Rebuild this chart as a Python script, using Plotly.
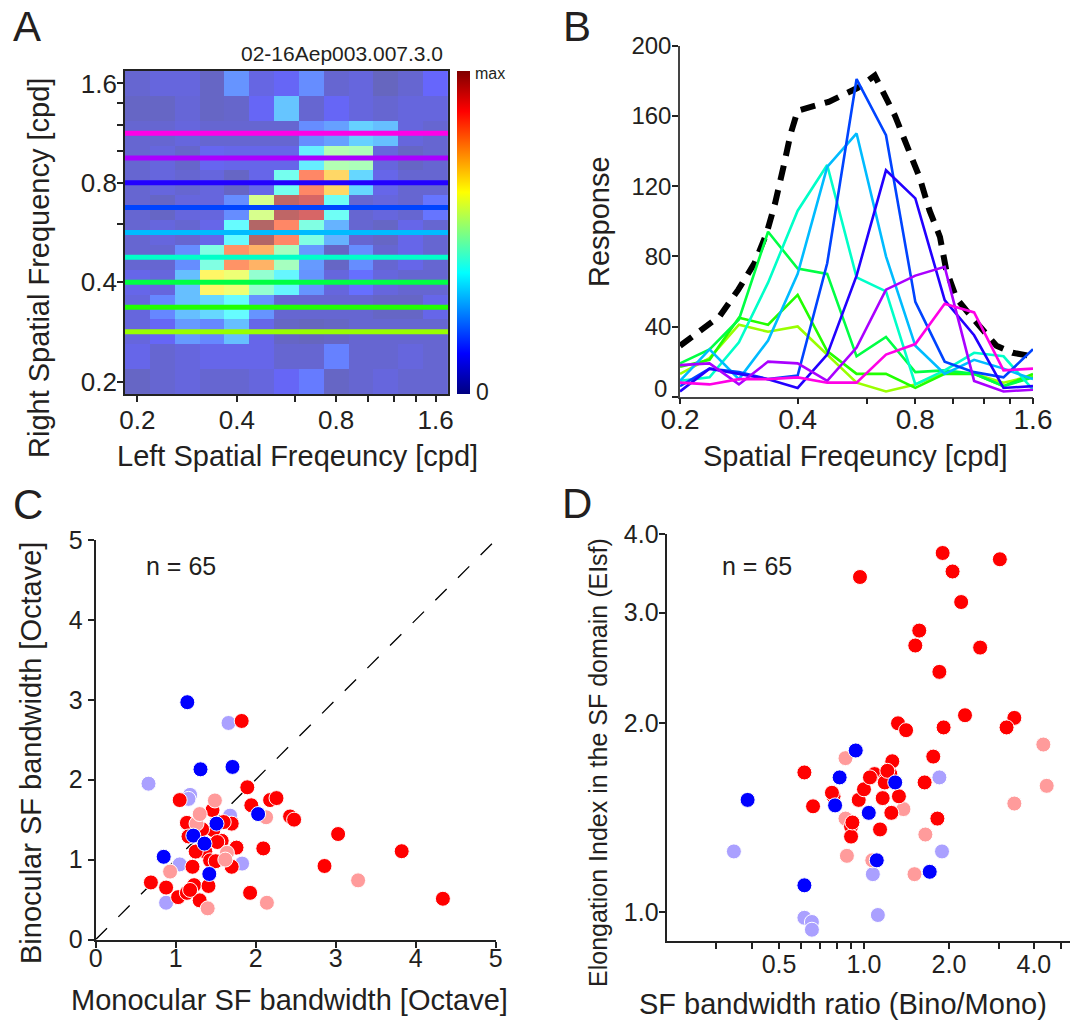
import numpy as np
import plotly.graph_objects as go

W, H = 1071, 1021
FONT = "Liberation Sans, Arial, sans-serif"
TXT = "#231f20"

# ---------------- data ----------------
sf = [0.2, 0.238, 0.283, 0.336, 0.4, 0.476, 0.566, 0.673, 0.8, 0.951, 1.131, 1.345, 1.6]
right_sf_desc = [1.6, 1.345, 1.131, 0.951, 0.8, 0.673, 0.566, 0.476, 0.4, 0.336, 0.283, 0.238, 0.2]
heat_rows = [
    [0.05, 0.07, 0.07, 0.03, 0.20, 0.08, 0.11, 0.19, 0.05, 0.07, 0.02, 0.05, 0.12],
    [0.03, 0.03, 0.06, 0.03, 0.04, 0.11, 0.28, 0.05, 0.11, 0.07, 0.05, 0.07, 0.07],
    [0.05, 0.05, 0.07, 0.05, 0.05, 0.05, 0.05, 0.19, 0.22, 0.30, 0.27, 0.07, 0.05],
    [0.05, 0.07, 0.04, 0.10, 0.09, 0.09, 0.09, 0.35, 0.50, 0.49, 0.07, 0.03, 0.05],
    [0.05, 0.07, 0.05, 0.07, 0.03, 0.09, 0.40, 0.82, 0.69, 0.31, 0.09, 0.05, 0.05],
    [0.05, 0.03, 0.07, 0.07, 0.19, 0.56, 0.98, 0.94, 0.39, 0.05, 0.07, 0.05, 0.15],
    [0.05, 0.07, 0.05, 0.09, 0.37, 1.00, 0.82, 0.42, 0.25, 0.05, 0.03, 0.09, 0.05],
    [0.05, 0.05, 0.19, 0.42, 0.80, 0.75, 0.48, 0.21, 0.03, 0.19, 0.05, 0.09, 0.05],
    [0.09, 0.07, 0.27, 0.64, 0.60, 0.45, 0.36, 0.20, 0.07, 0.14, 0.07, 0.05, 0.05],
    [0.07, 0.18, 0.27, 0.31, 0.37, 0.20, 0.05, 0.05, 0.05, 0.05, 0.03, 0.03, 0.09],
    [0.07, 0.11, 0.21, 0.18, 0.27, 0.09, 0.03, 0.02, 0.03, 0.05, 0.05, 0.05, 0.05],
    [0.09, 0.05, 0.07, 0.09, 0.09, 0.09, 0.05, 0.05, 0.17, 0.05, 0.05, 0.07, 0.05],
    [0.03, 0.05, 0.07, 0.05, 0.05, 0.07, 0.11, 0.16, 0.03, 0.05, 0.07, 0.05, 0.05],
]

line_sf = [0.283, 0.336, 0.4, 0.476, 0.566, 0.673, 0.8, 0.951, 1.131]
line_colors = ["#99ff00", "#22ff00", "#00ff44", "#00ffc8", "#00bbff",
               "#0044ff", "#2200ff", "#aa00ff", "#ff00e6"]

r_0283 = [13, 22, 41, 37, 40, 24, 8, 3, 7, 14, 13, 8, 12]
r_0336 = [17, 21, 45, 41, 58, 26, 13, 13, 5, 13, 13, 6, 13]
r_0400 = [19, 27, 44, 94, 73, 70, 23, 34, 14, 15, 13, 6, 11]
r_0476 = [9, 11, 31, 65, 106, 132, 68, 60, 7, 15, 25, 23, 4]
r_0566 = [9, 27, 10, 32, 70, 131, 150, 80, 29, 13, 21, 16, 10]
r_0673 = [6, 16, 14, 10, 12, 76, 181, 149, 54, 20, 14, 11, 27]
r_0800 = [3, 16, 13, 10, 5, 24, 69, 129, 113, 55, 35, 5, 6]
r_0951 = [18, 19, 7, 20, 19, 9, 28, 61, 69, 74, 9, 3, 4]
r_1131 = [8, 7, 10, 10, 11, 8, 8, 24, 30, 53, 48, 15, 16]
responses = [r_0283, r_0336, r_0400, r_0476, r_0566, r_0673, r_0800, r_0951, r_1131]

mono_sf = [0.2, 0.253, 0.282, 0.31, 0.333, 0.35, 0.368, 0.384, 0.4, 0.48, 0.57, 0.63,
           0.71, 0.77, 0.82, 0.87, 0.925, 0.96, 1.02, 1.1, 1.17, 1.29, 1.42, 1.6]
mono_resp = [29, 46, 61, 76, 93, 110, 131, 150, 163, 168, 176, 183,
             160, 141, 125, 106, 91, 72, 56, 47, 40, 29, 25, 23]
resp_ticks = [0, 40, 80, 120, 160, 200]

# panel C
c_red_mono = [1.825, 1.895, 1.945, 2.18, 2.26, 2.43, 2.48, 3.03, 2.095, 2.86, 1.93, 1.05, 1.14,
              1.16, 1.46, 0.69, 0.88, 1.03, 1.14, 1.23, 1.30, 1.41, 1.21, 1.70, 1.76, 1.70, 1.37,
              1.43, 1.575, 1.47, 3.825, 4.34, 1.33, 1.52, 1.60, 1.25, 1.50, 1.18]
c_red_bino = [2.735, 1.905, 1.68, 1.745, 1.77, 1.54, 1.50, 1.32, 1.14, 0.92, 0.584, 1.745, 1.46,
              1.29, 1.62, 0.714, 0.65, 0.53, 0.584, 0.68, 0.49, 0.67, 0.91, 0.91, 1.15, 1.45, 1.10,
              0.99, 1.235, 1.37, 1.105, 0.51, 1.38, 1.22, 1.47, 1.10, 0.98, 0.62]
c_pink_mono = [1.49, 1.26, 1.30, 1.64, 2.13, 0.93, 1.40, 2.14, 3.28, 1.62]
c_pink_bino = [1.74, 1.45, 1.57, 1.085, 1.53, 0.85, 0.39, 0.46, 0.74, 1.0]
c_blue_mono = [1.145, 1.31, 1.71, 0.85, 1.22, 1.36, 1.51, 1.42, 2.03]
c_blue_bino = [2.97, 2.13, 2.16, 1.035, 1.30, 1.20, 1.45, 0.82, 1.57]
c_lav_mono = [1.66, 0.66, 1.18, 1.16, 1.68, 1.05, 1.83, 0.88]
c_lav_bino = [2.71, 1.95, 1.81, 1.76, 1.55, 0.94, 0.95, 0.46]
unity = [0, 5]

# panel D
d_red_ratio = [0.968, 1.90, 2.06, 3.03, 2.21, 1.57, 1.52, 2.58, 1.85, 2.28, 3.41, 3.20, 1.915,
               1.32, 1.41, 1.76, 1.64, 1.82, 0.615, 0.66, 0.78, 0.90, 0.90, 0.958, 1.0, 1.09,
               1.165, 1.195, 1.26, 1.24, 1.33, 1.25, 1.14, 1.185, 0.77, 1.05, 0.91, 1.21]
d_red_ei = [3.42, 3.735, 3.49, 3.65, 3.12, 2.81, 2.66, 2.64, 2.415, 2.06, 2.04, 1.97, 1.97,
            2.0, 1.95, 1.77, 1.61, 1.41, 1.67, 1.475, 1.53, 1.37, 1.32, 1.51, 1.57, 1.66,
            1.52, 1.63, 1.74, 1.66, 1.53, 1.44, 1.355, 1.61, 1.55, 1.64, 1.39, 1.68]
d_pink_ratio = [0.86, 0.86, 0.87, 1.07, 1.38, 1.65, 1.51, 3.41, 4.32, 4.44]
d_pink_ei = [1.76, 1.41, 1.23, 1.21, 1.46, 1.33, 1.15, 1.49, 1.85, 1.59]
d_blue_ratio = [0.387, 0.615, 0.82, 0.935, 0.79, 1.04, 1.29, 1.11, 1.71]
d_blue_ei = [1.51, 1.104, 1.64, 1.81, 1.48, 1.44, 1.61, 1.21, 1.16]
d_lav_ratio = [0.346, 0.615, 0.654, 0.654, 1.075, 1.12, 1.85, 1.89]
d_lav_ei = [1.25, 0.98, 0.965, 0.938, 1.15, 0.99, 1.64, 1.25]

RED, PINK, BLUE, LAV = "#ff0000", "#ff9b9b", "#0000ff", "#aaa0ff"

sf_ticks = [0.2, 0.4, 0.6, 0.8, 1.0, 1.2, 1.4, 1.6]
sf_ticktext = ["0.2", "0.4", "", "0.8", "", "", "", "1.6"]

jet = [[0.0, "rgb(0,0,128)"], [0.125, "rgb(0,0,255)"], [0.375, "rgb(0,255,255)"],
       [0.625, "rgb(255,255,0)"], [0.875, "rgb(255,0,0)"], [1.0, "rgb(128,0,0)"]]

# ---------------- figure ----------------
def dx(a, b):
    return [a / W, b / W]

def dy(top, bottom):
    return [1 - bottom / H, 1 - top / H]

fig = go.Figure()

# Panel A heatmap (log2 coordinates)
fig.add_trace(go.Heatmap(
    x=np.log2(sf), y=np.log2(right_sf_desc), z=heat_rows,
    colorscale=jet, zmin=0, zmax=1, opacity=0.6,
    xaxis="x", yaxis="y", hoverinfo="skip",
    colorbar=dict(x=457 / W, xanchor="left", y=1 - (71 + 394) / 2 / H, yanchor="middle",
                  len=323 / H, lenmode="fraction", thickness=13, outlinewidth=0,
                  showticklabels=False, ticks="", xpad=0, ypad=0),
))

# Panel B
fig.add_trace(go.Scatter(x=mono_sf, y=mono_resp, mode="lines",
                         line=dict(color="black", width=6, dash="15px,10px"),
                         xaxis="x2", yaxis="y2", hoverinfo="skip"))
for resp, col in zip(responses, line_colors):
    fig.add_trace(go.Scatter(x=sf, y=resp, mode="lines", line=dict(color=col, width=2.6),
                             xaxis="x2", yaxis="y2", hoverinfo="skip"))

# Panel C
fig.add_trace(go.Scatter(x=unity, y=unity, mode="lines",
                         line=dict(color="black", width=1.3, dash="16px,16px"),
                         xaxis="x3", yaxis="y3", hoverinfo="skip"))
mk = lambda c: dict(color=c, size=15, line=dict(color="white", width=1))
for xs, ys, c in [(c_lav_mono, c_lav_bino, LAV), (c_red_mono, c_red_bino, RED),
                  (c_pink_mono, c_pink_bino, PINK), (c_blue_mono, c_blue_bino, BLUE)]:
    fig.add_trace(go.Scatter(x=xs, y=ys, mode="markers", marker=mk(c),
                             xaxis="x3", yaxis="y3", hoverinfo="skip"))

# Panel D
for xs, ys, c in [(d_lav_ratio, d_lav_ei, LAV), (d_pink_ratio, d_pink_ei, PINK),
                  (d_red_ratio, d_red_ei, RED), (d_blue_ratio, d_blue_ei, BLUE)]:
    fig.add_trace(go.Scatter(x=xs, y=ys, mode="markers", marker=mk(c),
                             xaxis="x4", yaxis="y4", hoverinfo="skip"))

# horizontal lines on heatmap
shapes = []
for v, c in zip(line_sf, line_colors):
    shapes.append(dict(type="line", xref="x domain", x0=0, x1=1, yref="y",
                       y0=float(np.log2(v)), y1=float(np.log2(v)),
                       line=dict(color=c, width=5), layer="above"))

axcommon = dict(showgrid=False, zeroline=False, ticks="outside", ticklen=6, tickwidth=1.5,
                tickcolor="#222", linecolor="#222", linewidth=1.8, showline=True,
                automargin=False,
                tickfont=dict(family=FONT, size=25, color=TXT))

lo, hi = float(np.log2(0.2) - 0.125), float(np.log2(1.6) + 0.125)
a_tickvals = [float(np.log2(t)) for t in sf_ticks]

layout = dict(
    width=W, height=H, margin=dict(l=0, r=0, t=0, b=0, pad=0, autoexpand=False),
    paper_bgcolor="white", plot_bgcolor="white", showlegend=False,
    font=dict(family=FONT, color=TXT),
    xaxis=dict(axcommon, domain=dx(125, 448), range=[lo, hi], mirror=True,
               tickvals=a_tickvals, ticktext=sf_ticktext, anchor="y",
               ticklabelstandoff=-4,
               tickfont=dict(family=FONT, size=26, color=TXT)),
    yaxis=dict(axcommon, domain=dy(71, 394), range=[lo, hi], mirror=True,
               tickvals=a_tickvals, ticktext=sf_ticktext, anchor="x",
               ticklabelstandoff=-5,
               tickfont=dict(family=FONT, size=26, color=TXT)),
    xaxis2=dict(axcommon, domain=dx(680, 1033), type="log",
                range=[np.log10(0.2), np.log10(1.6)], tickvals=sf_ticks,
                ticktext=sf_ticktext, anchor="y2", linecolor="#444", linewidth=1.5,
                ticklabelstandoff=-9,
                tickfont=dict(family=FONT, size=28, color=TXT)),
    yaxis2=dict(axcommon, domain=dy(45.7, 396.7), range=[0, 200],
                tickvals=resp_ticks, ticktext=[""] + [str(t) for t in resp_ticks[1:]],
                anchor="x2", linecolor="#444",
                linewidth=1.5, ticklabelstandoff=-4,
                tickfont=dict(family=FONT, size=24, color=TXT)),
    xaxis3=dict(axcommon, domain=dx(95.7, 495.7), range=[0, 5],
                tickvals=[0, 1, 2, 3, 4, 5], anchor="y3", linewidth=2.2,
                ticklabelstandoff=-11),
    yaxis3=dict(axcommon, domain=dy(540, 939.5), range=[0, 5],
                tickvals=[0, 1, 2, 3, 4, 5], anchor="x3", linewidth=2.2),
    xaxis4=dict(axcommon, domain=dx(666.7, 1070), type="log",
                range=[np.log10(0.2), np.log10(5.37)],
                tickvals=[0.3, 0.4, 0.5, 0.6, 0.7, 0.8, 0.9, 1, 2, 3, 4, 5],
                ticktext=["", "", "0.5", "", "", "", "", "1.0", "2.0", "", "4.0", ""],
                anchor="y4", linewidth=2.2, ticklabelstandoff=-6),
    yaxis4=dict(axcommon, domain=dy(534.3, 941), type="log",
                range=[np.log10(0.9), np.log10(4.0)], tickvals=[1, 2, 3, 4],
                ticktext=["1.0", "2.0", "3.0", "4.0"], anchor="x4", linewidth=2.2,
                ticklabelstandoff=-5),
    shapes=shapes,
)

def ann(text, x, y, size, angle=0, xanchor="center"):
    return dict(text=text, x=x / W, y=1 - y / H, xref="paper", yref="paper",
                showarrow=False, textangle=angle, xanchor=xanchor, yanchor="middle",
                font=dict(family=FONT, size=size, color=TXT))

layout["annotations"] = [
    ann("A", 27, 27, 42), ann("B", 577, 27, 42), ann("C", 28, 504, 42), ann("D", 577, 503, 42),
    ann("02-16Aep003.007.3.0", 341.5, 53, 21),
    ann("max", 490, 73, 16), ann("0", 482, 392, 23),
    ann("0", 669, 388, 24, xanchor="right"),
    ann("Left Spatial Freqeuncy [cpd]", 297.5, 456, 29),
    ann("Right Spatial Frequency [cpd]", 39, 268, 29, angle=-90),
    ann("Response", 599, 222, 29, angle=-90),
    ann("Spatial Freqeuncy [cpd]", 855, 456, 29),
    ann("n = 65", 181, 566, 25), ann("n = 65", 757, 566, 25),
    ann("Monocular SF bandwidth [Octave]", 289, 1000, 29),
    ann("Binocular SF bandwidth [Octave]", 31, 753, 29, angle=-90),
    ann("SF bandwidth ratio (Bino/Mono)", 843, 1004, 29),
    ann("Elongation Index in the SF domain (EIsf)", 598, 763, 25, angle=-90),
]

fig.update_layout(**layout)
fig.write_html("out.html")
